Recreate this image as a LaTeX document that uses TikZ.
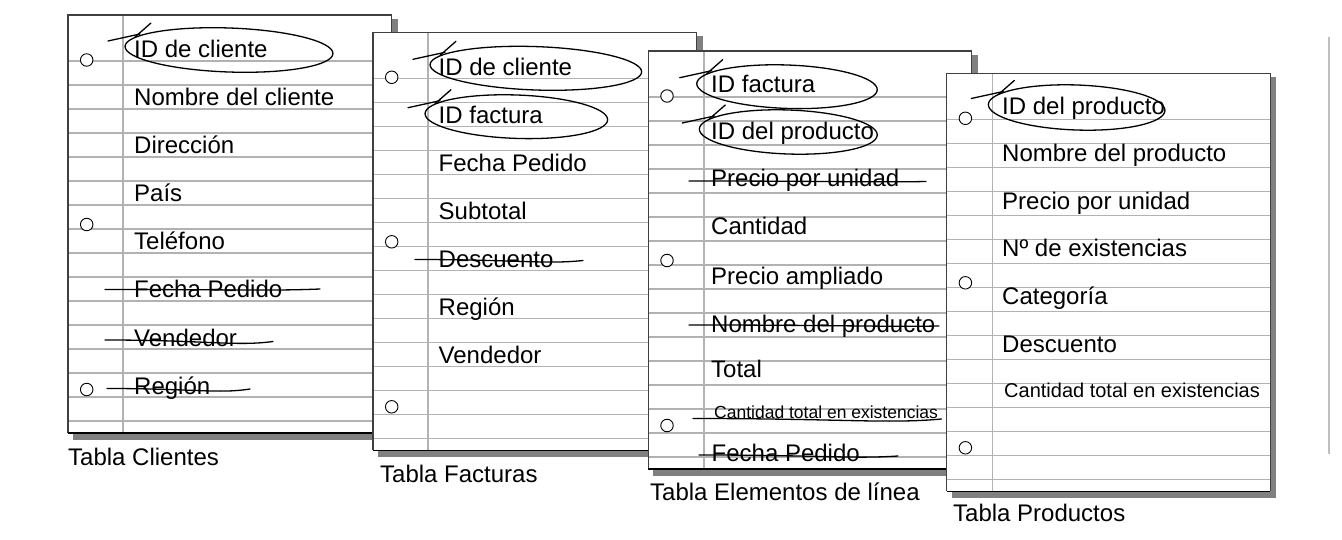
\documentclass[tikz,border=0pt]{standalone}
\usepackage{fontspec}
\setmainfont{Liberation Sans}

% hoja rayada: nombre, izquierda, arriba, margen
\newcommand\hoja[4]{%
  \fill[sombra] (#2+5,#3+4) rectangle (#2+329.5,#3+425);
  \fill[white] (#2,#3) rectangle (#2+323.5,#3+418);
  \foreach \k in {0,...,15}
    \draw[raya] (#2,#3+46+24*\k) -- (#2+323.5,#3+46+24*\k);
  \draw[raya] (#2+#4,#3) -- (#2+#4,#3+418);
  \draw[borde] (#2,#3+418) -- (#2,#3) -- (#2+323.5,#3) -- (#2+323.5,#3+418);
  \draw[borde, draw=black] (#2,#3+418) -- (#2+323.5,#3+418);
  \foreach \h [count=\i] in {45,209.5,374.5}
    \node[agujero] (#1-hole\i) at (#2+18.7,#3+\h) {};
}
% campo rodeado a mano: izquierda, centro y, derecha, radio y
\newcommand\rodear[4]{%
  \draw[pen] (#1-17,#2-9) -- (#1+15,#2-16);
  \draw[pen] (#1+10,#2-13) -- (#1+26,#2-27);
  \draw[pen, rotate around={-2:({(#1+#3)/2},#2)}]
    ({(#1+#3)/2},#2) ellipse [x radius={(#3-#1)/2}, y radius=#4];
}
% campo tachado a mano: x1, y1, x2, y2, caida
\newcommand\tachar[5]{%
  \draw[pen] (#1,#2) .. controls ({#1+0.6*(#3-#1)},#2) and ({#3-0.22*(#3-#1)},{#4+#5}) .. (#3,#4);
}

\begin{document}
\begin{tikzpicture}[x=1pt, y=-1pt]
  \tikzset{
    sombra/.style={fill=black!50},
    raya/.style={draw=black!30, line width=1.5pt},
    borde/.style={draw=black!75, line width=1.3pt},
    agujero/.style={circle, draw=black, fill=white, line width=0.9pt, minimum size=12.5pt, inner sep=0pt},
    campo/.style={anchor=base west, inner sep=0pt, font=\fontsize{24}{28}\selectfont},
    chico/.style={campo, font=\fontsize{#1}{#1}\selectfont},
    titulo/.style={anchor=base west, inner sep=0pt, font=\fontsize{24}{28}\selectfont},
    pen/.style={draw=black, line width=1.3pt, line cap=round}
  }
  \useasboundingbox (0,0) rectangle (1342,540);

  % Hoja 1: Tabla Clientes
  \hoja{cli}{68}{15}{55}
  \foreach \t [count=\i] in {ID de cliente, Nombre del cliente, Dirección, País,
      Teléfono, Fecha Pedido, Vendedor, Región}
    \node[campo] (cli\i) at (134,10+48*\i) {\t};
  \rodear{125}{50}{333}{22}
  \tachar{105}{289.5}{320}{289}{2}
  \tachar{105}{340}{273}{341.5}{5}
  \tachar{107}{388.5}{250}{389}{5}
  \node[titulo] (cli-label) at (68,465) {Tabla Clientes};

  % Hoja 2: Tabla Facturas
  \hoja{fac}{373}{32.3}{55}
  \foreach \t [count=\i] in {ID de cliente, ID factura, Fecha Pedido, Subtotal,
      Descuento, Región, Vendedor}
    \node[campo] (fac\i) at (438.5,27.3+48*\i) {\t};
  \rodear{430}{68.3}{641.7}{21.7}
  \rodear{425}{116.7}{607.7}{21.7}
  \tachar{415}{259.5}{583}{260.5}{4}
  \node[titulo] (fac-label) at (380,482) {Tabla Facturas};

  % Hoja 3: Tabla Elementos de línea
  \hoja{ele}{648.3}{51}{55.7}
  \foreach \y/\t [count=\i] in {92.7/ID factura, 139.5/ID del producto,
      186.7/Precio por unidad, 235/Cantidad, 285/Precio ampliado,
      332.3/Nombre del producto, 377.3/Total}
    \node[campo] (ele\i) at (711,\y) {\t};
  \node[chico=17.5] (ele8) at (714,418.3) {Cantidad total en existencias};
  \node[campo] (ele9) at (711.5,461) {Fecha Pedido};
  \rodear{696.7}{86.7}{877.3}{21.7}
  \rodear{699.3}{132}{877.3}{22}
  \tachar{689}{181}{926}{181.5}{1}
  \tachar{689}{325}{939}{326}{1}
  \tachar{693}{418.5}{941.5}{419}{5}
  \tachar{699}{455}{898}{456}{3}
  \node[titulo] (ele-label) at (650,500) {Tabla Elementos de línea};

  % Hoja 4: Tabla Productos
  \hoja{pro}{946.7}{73.3}{46}
  \foreach \y/\t [count=\i] in {115/ID del producto, 161.7/Nombre del producto,
      210/Precio por unidad, 256.7/Nº de existencias, 304.3/Categoría,
      352.3/Descuento}
    \node[campo] (pro\i) at (1002,\y) {\t};
  \node[chico=20] (pro7) at (1004,397.3) {Cantidad total en existencias};
  \rodear{988.3}{107.5}{1165}{22.5}
  \node[titulo] (pro-label) at (953,521.7) {Tabla Productos};

  % linea gris a la derecha
  \draw[raya, draw=black!25] (1329,36.7) -- (1329,454);
\end{tikzpicture}
\end{document}
